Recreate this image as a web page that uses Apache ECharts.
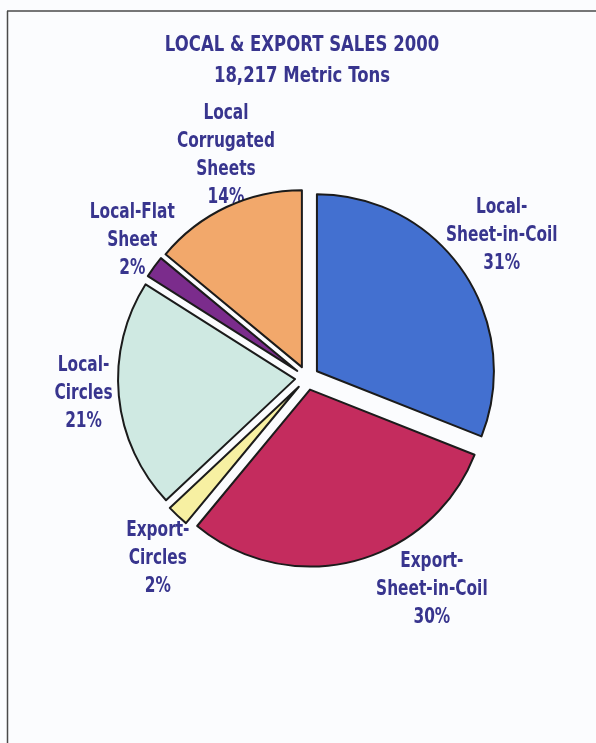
<!DOCTYPE html>
<html>
<head>
<meta charset="utf-8">
<script src="https://cdn.jsdelivr.net/npm/echarts@6/dist/echarts.min.js"></script>
<style>
  html, body { margin: 0; padding: 0; background: #fbfcfe; }
  #chart { width: 596px; height: 743px; }
</style>
</head>
<body>
<div id="chart"></div>
<script>
// Sales split by product, percent of total tonnage (clockwise from 12 o'clock)
const categories = [
  'Local-\nSheet-in-Coil',
  'Export-\nSheet-in-Coil',
  'Export-\nCircles',
  'Local-\nCircles',
  'Local-Flat\nSheet',
  'Local\nCorrugated\nSheets'
];
const shares = [31, 30, 2, 21, 2, 14];
const sliceColors = ['#4370d0', '#c42c5e', '#f7f0a2', '#cfe9e2', '#7b2c8c', '#f2a86b'];

const titleLines = ['LOCAL & EXPORT SALES 2000', '18,217 Metric Tons'];

// label placement around the pie: distance from centre and angular nudge (degrees)
const labelDist = [241, 246, 234, 224, 222, 237];
const labelTurn = [1.9, 16.1, 3.6, -1.3, -2.1, -5.2];

const CX = 307, CY = 378, R = 177;
const FONT = "'DejaVu Sans', 'Liberation Sans', sans-serif";
const INK = '#38358e';
const NARROW = 0.75;   // horizontal squeeze giving a condensed heavy face

const total = shares.reduce((a, b) => a + b, 0);
const midAngles = [];
let acc = 0;
shares.forEach(v => {
  const start = 90 - acc / total * 360;
  acc += v;
  const end = 90 - acc / total * 360;
  midAngles.push((start + end) / 2);
});

function condensedText(text, x, y, size, lineHeight) {
  return {
    type: 'text',
    silent: true,
    x: x,
    y: y,
    scaleX: NARROW,
    style: {
      text: text,
      x: 0,
      y: 0,
      align: 'center',
      verticalAlign: 'middle',
      fontFamily: FONT,
      fontWeight: 'bold',
      fontSize: size,
      lineHeight: lineHeight,
      fill: INK
    }
  };
}

// slice captions: name plus percentage, set around the rim of the pie
const captions = categories.map((name, i) => {
  const a = (midAngles[i] + labelTurn[i]) * Math.PI / 180;
  return condensedText(
    name + '\n' + Math.round(shares[i] / total * 100) + '%',
    CX + labelDist[i] * Math.cos(a),
    CY - labelDist[i] * Math.sin(a),
    20.5, 28
  );
});

const heading = condensedText(titleLines.join('\n'), 302, 60.5, 22, 31);

const chart = echarts.init(document.getElementById('chart'), null, { renderer: 'canvas' });

chart.setOption({
  backgroundColor: '#fbfcfe',
  animation: false,
  graphic: [
    { type: 'line', shape: { x1: 7.5, y1: 11, x2: 7.5, y2: 743 }, style: { stroke: '#4a4a4a', lineWidth: 1.5 } },
    { type: 'line', shape: { x1: 7, y1: 11, x2: 596, y2: 11 }, style: { stroke: '#4a4a4a', lineWidth: 1.5 } },
    heading
  ].concat(captions),
  series: [{
    type: 'pie',
    center: [CX, CY],
    radius: R,
    startAngle: 90,
    clockwise: true,
    selectedMode: 'multiple',
    selectedOffset: 12,
    avoidLabelOverlap: false,
    emphasis: { disabled: true },
    itemStyle: { borderColor: '#1b1b1b', borderWidth: 2 },
    select: { itemStyle: { borderColor: '#1b1b1b', borderWidth: 2 } },
    label: { show: false },
    labelLine: { show: false },
    data: categories.map((name, i) => ({
      name: name,
      value: shares[i],
      selected: true,
      itemStyle: { color: sliceColors[i] },
      select: { itemStyle: { color: sliceColors[i] } }
    }))
  }]
});
</script>
</body>
</html>
